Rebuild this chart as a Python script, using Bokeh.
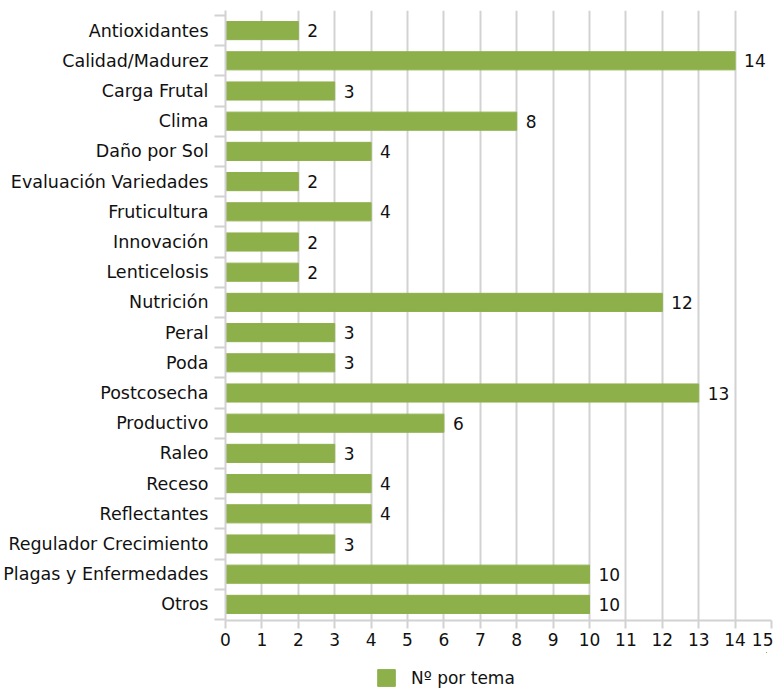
from bokeh.plotting import figure
from bokeh.models import ColumnDataSource, Range1d, FixedTicker, LinearAxis, LabelSet, Legend, LegendItem, Grid
from bokeh.layouts import column
from bokeh.core.properties import value
from bokeh.embed import file_html
from bokeh.resources import INLINE

categories = ["Antioxidantes", "Calidad/Madurez", "Carga Frutal", "Clima", "Daño por Sol",
              "Evaluación Variedades", "Fruticultura", "Innovación", "Lenticelosis", "Nutrición",
              "Peral", "Poda", "Postcosecha", "Productivo", "Raleo", "Receso", "Reflectantes",
              "Regulador Crecimiento", "Plagas y Enfermedades", "Otros"]
values = [2, 14, 3, 8, 4, 2, 4, 2, 2, 12, 3, 3, 13, 6, 3, 4, 4, 3, 10, 10]
x_ticks = list(range(0, 16))
series_name = "Nº por tema"

FONT = "DejaVu Sans"
GREEN = "#8db04a"
GRID = "#d2d2d2"
TXT = "#111111"

n = len(categories)
idx = list(range(n))
src = ColumnDataSource(dict(y=idx, v=values, lab=[str(v) for v in values]))

p = figure(width=768, height=652, frame_width=546, frame_height=610,
           min_border_left=220, min_border_right=2, min_border_top=10, min_border_bottom=32,
           x_range=Range1d(0, 15), y_range=Range1d(n - 0.5 + 1 / 30.2, -0.5 - 5 / 30.2),
           output_backend="svg", toolbar_location=None, x_axis_location=None, y_axis_location=None)
p.outline_line_color = None
p.grid.visible = False

r = p.hbar(y="y", right="v", left=0, height=0.6, color=GREEN, source=src)

labels = LabelSet(x="v", y="y", text="lab", source=src, x_offset=9, text_baseline="middle",
                  text_align="left", text_font=value(FONT), text_font_size=value("17px"),
                  text_color=value(TXT))
p.add_layout(labels)

xaxis = LinearAxis(ticker=FixedTicker(ticks=x_ticks))
xaxis.axis_line_color = GRID
xaxis.axis_line_width = 2
xaxis.major_tick_line_color = GRID
xaxis.major_tick_line_width = 2
xaxis.major_tick_out = 8
xaxis.major_tick_in = 0
xaxis.minor_tick_line_color = None
xaxis.minor_tick_out = 0
xaxis.major_label_text_font = FONT
xaxis.major_label_text_font_size = "17px"
xaxis.major_label_text_color = TXT
xaxis.major_label_standoff = 4
p.add_layout(xaxis, "below")

yaxis = LinearAxis(ticker=FixedTicker(ticks=idx, minor_ticks=[i - 0.5 for i in range(n + 1)]))
yaxis.major_label_overrides = {i: c for i, c in zip(idx, categories)}
yaxis.axis_line_color = GRID
yaxis.axis_line_width = 2
yaxis.major_tick_line_color = None
yaxis.major_tick_out = 0
yaxis.major_tick_in = 0
yaxis.minor_tick_line_color = GRID
yaxis.minor_tick_line_width = 2
yaxis.minor_tick_out = 11
yaxis.minor_tick_in = 0
yaxis.major_label_text_font = FONT
yaxis.major_label_text_font_size = "17.5px"
yaxis.major_label_text_color = TXT
yaxis.major_label_standoff = 6
p.add_layout(yaxis, "left")

g = Grid(dimension=0, ticker=xaxis.ticker, grid_line_color=GRID, grid_line_width=2)
p.add_layout(g)

# legend strip below the chart (its frame is aligned with the chart's frame by the column)
lf = figure(width=768, height=36, min_border=0, x_range=Range1d(-10, -9), y_range=Range1d(-10, -9),
            output_backend="svg", toolbar_location=None, x_axis_location=None, y_axis_location=None)
lf.outline_line_color = None
lf.grid.visible = False
lr = lf.hbar(y="y", right="v", left=0, height=0.6, color=GREEN, source=src)
legend = Legend(items=[LegendItem(label=series_name, renderers=[lr])],
                location=(150, 0), orientation="horizontal",
                padding=0, margin=0, glyph_width=22, glyph_height=21, label_standoff=14,
                label_text_font=FONT, label_text_font_size="17px", label_text_color=TXT,
                border_line_color=None, background_fill_alpha=0)
lf.add_layout(legend, "center")

layout = column(p, lf, spacing=0)
open("out.html", "w").write(file_html(layout, INLINE))
